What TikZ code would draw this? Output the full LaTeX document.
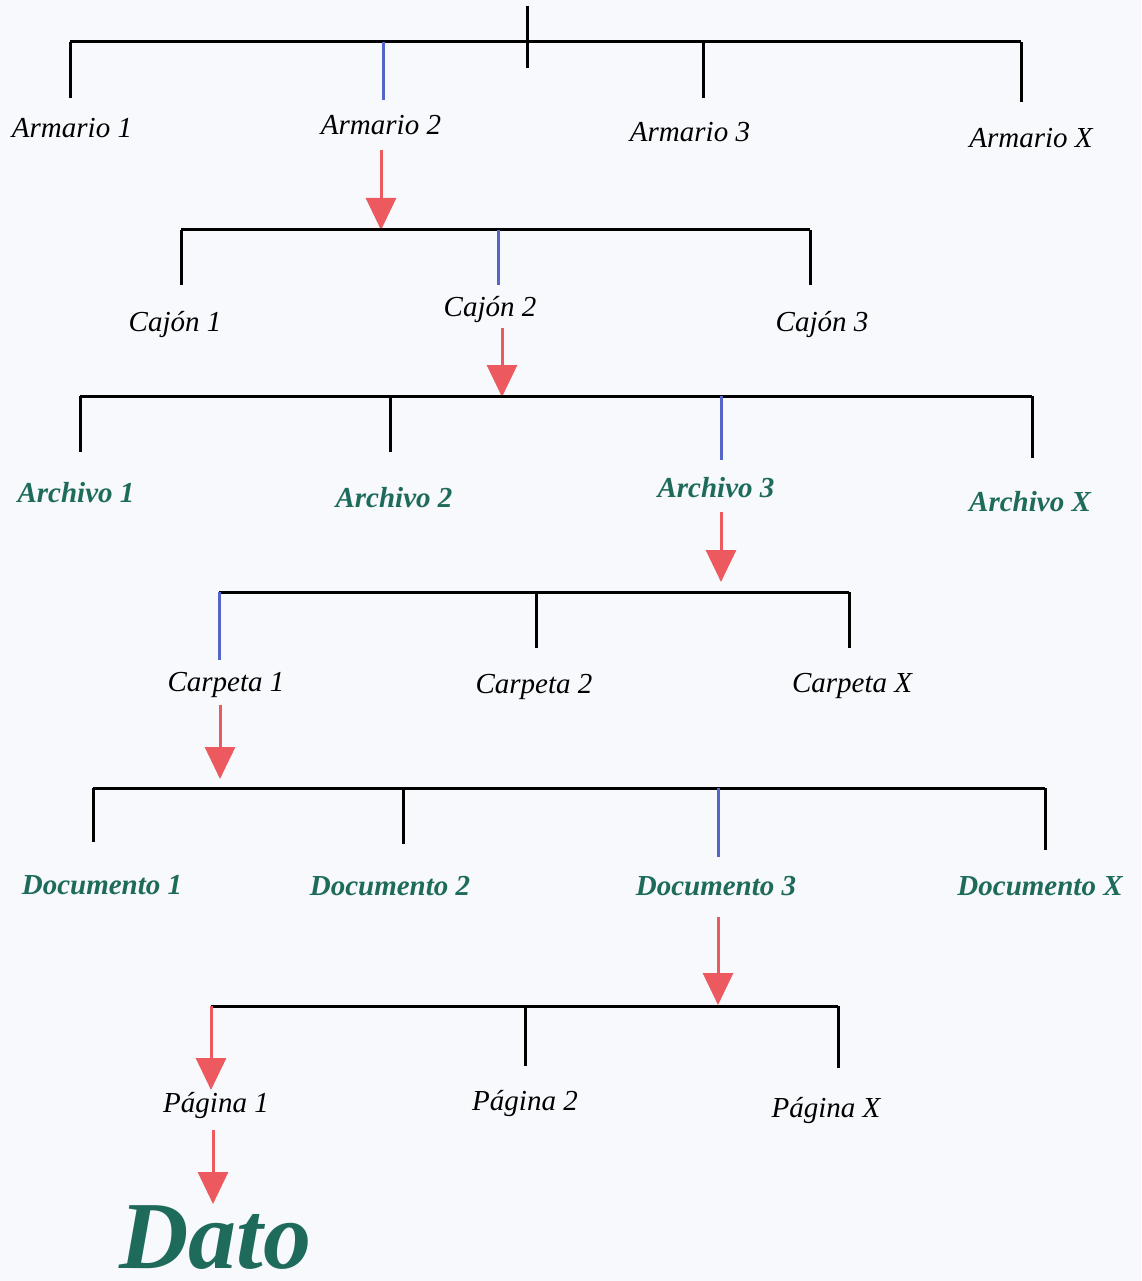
\documentclass[tikz,border=0pt]{standalone}
\usepackage{fontspec}
\setmainfont{Liberation Serif}
\usetikzlibrary{arrows.meta}
\definecolor{bgc}{HTML}{F7F9FC}
\definecolor{redar}{HTML}{EC5A60}
\definecolor{bluel}{HTML}{5565C8}
\definecolor{greent}{HTML}{1E6B5C}
\tikzset{
  bar/.style={line width=3pt, black},
  drop/.style={line width=3pt, black},
  bdrop/.style={line width=3pt, bluel},
  redarrow/.style={line width=3pt, redar, -{Triangle[width=30pt,length=32pt]}},
  lbl/.style={font=\fontsize{29}{34}\selectfont\itshape, text=black, inner sep=0pt},
  glbl/.style={font=\fontsize{29}{34}\selectfont\bfseries\itshape, text=greent, inner sep=0pt},
}
\begin{document}
\begin{tikzpicture}[x=1pt,y=-1pt]
\useasboundingbox (0,0) rectangle (1141,1281);
\fill[bgc] (0,0) rectangle (1141,1281);

% ---------- Level 1: Armarios ----------
\coordinate (t0) at (527,6);
\coordinate (t1) at (527,68);
\draw[bar] (t0) -- (t1);
\coordinate (L1a) at (70,42);
\coordinate (L1b) at (1021,42);
\draw[bar] (L1a) -- (L1b);
\coordinate (d11) at (70,98);
\coordinate (c12) at (383,42);
\coordinate (d12) at (383,100);
\coordinate (c13) at (703,42);
\coordinate (d13) at (703,98);
\coordinate (d14) at (1021,102);
\draw[drop] (L1a) -- (d11);
\draw[bdrop] (c12) -- (d12);
\draw[drop] (c13) -- (d13);
\draw[drop] (L1b) -- (d14);
\node[lbl] (A1) at (72,128) {Armario 1};
\node[lbl] (A2) at (381,125) {Armario 2};
\node[lbl] (A3) at (690,132) {Armario 3};
\node[lbl] (AX) at (1031,138) {Armario X};

% ---------- Level 2: Cajones ----------
\coordinate (a1s) at (381,150);
\coordinate (L2m) at (381,230);
\draw[redarrow] (a1s) -- (L2m);
\coordinate (L2a) at (181,230);
\coordinate (L2b) at (810,230);
\draw[bar] (L2a) -- (L2b);
\coordinate (d21) at (181,285);
\coordinate (c22) at (498,230);
\coordinate (d22) at (498,285);
\coordinate (d23) at (810,285);
\draw[drop] (L2a) -- (d21);
\draw[bdrop] (c22) -- (d22);
\draw[drop] (L2b) -- (d23);
\node[lbl] (C1) at (175,325) {Cajón 1};
\node[lbl] (C2) at (490,310) {Cajón 2};
\node[lbl] (C3) at (822,325) {Cajón 3};

% ---------- Level 3: Archivos ----------
\coordinate (a2s) at (502,328);
\coordinate (L3m) at (502,397);
\draw[redarrow] (a2s) -- (L3m);
\coordinate (L3a) at (80,396);
\coordinate (L3b) at (1032,396);
\draw[bar] (L3a) -- (L3b);
\coordinate (d31) at (80,452);
\coordinate (c32) at (390,396);
\coordinate (d32) at (390,452);
\coordinate (c33) at (721,396);
\coordinate (d33) at (721,460);
\coordinate (d34) at (1032,458);
\draw[drop] (L3a) -- (d31);
\draw[drop] (c32) -- (d32);
\draw[bdrop] (c33) -- (d33);
\draw[drop] (L3b) -- (d34);
\node[glbl] (R1) at (76,493) {Archivo 1};
\node[glbl] (R2) at (394,498) {Archivo 2};
\node[glbl] (R3) at (716,488) {Archivo 3};
\node[glbl] (RX) at (1030,502) {Archivo X};

% ---------- Level 4: Carpetas ----------
\coordinate (a3s) at (721,512);
\coordinate (L4m) at (721,582);
\draw[redarrow] (a3s) -- (L4m);
\coordinate (L4a) at (219,592);
\coordinate (L4b) at (849,592);
\draw[bar] (L4a) -- (L4b);
\coordinate (d41) at (219,660);
\coordinate (c42) at (536,592);
\coordinate (d42) at (536,648);
\coordinate (d43) at (849,648);
\draw[bdrop] (L4a) -- (d41);
\draw[drop] (c42) -- (d42);
\draw[drop] (L4b) -- (d43);
\node[lbl] (P1) at (226,685) {Carpeta 1};
\node[lbl] (P2) at (534,687) {Carpeta 2};
\node[lbl] (PX) at (852,686) {Carpeta X};

% ---------- Level 5: Documentos ----------
\coordinate (a4s) at (220,705);
\coordinate (L5m) at (220,779);
\draw[redarrow] (a4s) -- (L5m);
\coordinate (L5a) at (93,788);
\coordinate (L5b) at (1045,788);
\draw[bar] (L5a) -- (L5b);
\coordinate (d51) at (93,842);
\coordinate (c52) at (403,788);
\coordinate (d52) at (403,844);
\coordinate (c53) at (718,788);
\coordinate (d53) at (718,857);
\coordinate (d54) at (1045,850);
\draw[drop] (L5a) -- (d51);
\draw[drop] (c52) -- (d52);
\draw[bdrop] (c53) -- (d53);
\draw[drop] (L5b) -- (d54);
\node[glbl] (D1) at (102,885) {Documento 1};
\node[glbl] (D2) at (390,886) {Documento 2};
\node[glbl] (D3) at (716,886) {Documento 3};
\node[glbl] (DX) at (1040,886) {Documento X};

% ---------- Level 6: Paginas ----------
\coordinate (a5s) at (718,917);
\coordinate (L6m) at (718,1005);
\draw[redarrow] (a5s) -- (L6m);
\coordinate (L6a) at (211,1006);
\coordinate (L6b) at (838,1006);
\draw[bar] (L6a) -- (L6b);
\coordinate (d61) at (211,1090);
\coordinate (c62) at (525,1006);
\coordinate (d62) at (525,1066);
\coordinate (d63) at (838,1068);
\draw[redarrow] (L6a) -- (d61);
\draw[drop] (c62) -- (d62);
\draw[drop] (L6b) -- (d63);
\node[lbl] (G1) at (216,1105) {Página 1};
\node[lbl] (G2) at (525,1103) {Página 2};
\node[lbl] (GX) at (826,1110) {Página X};

% ---------- Dato ----------
\coordinate (a6s) at (213,1130);
\coordinate (a6e) at (213,1204);
\draw[redarrow] (a6s) -- (a6e);
\node[font=\fontsize{96}{104}\selectfont\bfseries\itshape, text=greent, inner sep=0pt, anchor=base] (Dato) at (215,1268) {Dato};
\end{tikzpicture}
\end{document}
